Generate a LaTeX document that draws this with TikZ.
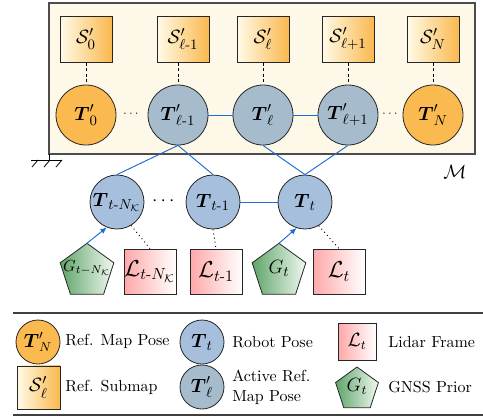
\documentclass[tikz,border=0pt]{standalone}
\usepackage{amsmath,amssymb}
\usetikzlibrary{shapes.geometric,arrows.meta,calc}
\definecolor{mapfill}{RGB}{253,248,232}
\definecolor{orangeP}{RGB}{250,186,80}
\definecolor{greyblue}{RGB}{166,188,205}
\definecolor{robotblue}{RGB}{166,191,220}
\definecolor{edgeblue}{RGB}{30,110,210}
\definecolor{subL}{RGB}{255,251,232}
\definecolor{subR}{RGB}{250,184,78}
\definecolor{lidL}{RGB}{255,168,168}
\definecolor{gnssL}{RGB}{95,165,105}
\definecolor{gnssR}{RGB}{240,248,240}
\tikzset{
  fT/.style={font=\fontsize{13}{15}\selectfont},
  refpose/.style={circle,draw=black!85,line width=0.5pt,fill=orangeP,inner sep=0pt,minimum size=37.5pt,fT},
  actpose/.style={circle,draw=black!85,line width=0.5pt,fill=greyblue,inner sep=0pt,minimum size=37.5pt,fT},
  robpose/.style={circle,draw=black!85,line width=0.5pt,fill=robotblue,inner sep=0pt,minimum size=33.75pt,fT},
  submap/.style={rectangle,draw=black!85,line width=0.5pt,left color=subL,right color=subR,inner sep=0pt,minimum width=32.5pt,minimum height=28.75pt,font=\fontsize{12.5}{14}\selectfont},
  lidar/.style={rectangle,draw=black!85,line width=0.5pt,left color=lidL,right color=white,inner sep=0pt,minimum width=32.5pt,minimum height=28.1pt,font=\fontsize{14}{16}\selectfont},
  gnssshape/.style={draw=black!85,line width=0.5pt,left color=gnssL,right color=gnssR,line join=miter},
  gtext/.style={inner sep=0pt,font=\fontsize{13}{15}\selectfont},
  bedge/.style={edgeblue,line width=0.6pt},
  barrow/.style={edgeblue,line width=0.6pt,-{Latex[length=4pt,width=3.5pt]}},
  dedge/.style={black,line width=0.5pt,dash pattern=on 2pt off 1.5pt},
  dotedge/.style={black,line width=0.6pt,dotted},
  legtext/.style={anchor=west,inner sep=0pt,align=left,font=\fontsize{10}{12.5}\selectfont}
}
\newcommand\pentaat[2]{% center coordinate name, radius in px
  \path[gnssshape] ($(#1)+(-90:#2)$) -- ($(#1)+(-18:#2)$) -- ($(#1)+(54:#2)$) -- ($(#1)+(126:#2)$) -- ($(#1)+(198:#2)$) -- cycle;}
\begin{document}
\begin{tikzpicture}[x=0.625pt,y=-0.625pt]
\useasboundingbox (0,0) rectangle (483,419);
% map box
\draw[draw=black!70,line width=0.8pt,fill=mapfill] (49,3) rectangle (475,154);
\coordinate (gtop) at (49,154);
\coordinate (gbot) at (49,160);
\draw[line width=0.5pt] (gtop) -- (gbot);
\draw[line width=0.5pt] (31,160) -- (62,160);
\foreach \xx in {38,50,62} \draw[line width=0.5pt] (\xx,160) -- (\xx-6,167);
\node[font=\fontsize{12}{14}\selectfont] (Mlab) at (455,172) {$\mathcal{M}$};
% submaps
\node[submap] (S0) at (86,39) {$\mathcal{S}'_0$};
\node[submap] (S1) at (183,39) {$\mathcal{S}'_{\ell\text{-}1}$};
\node[submap] (S2) at (263,39) {$\mathcal{S}'_{\ell}$};
\node[submap] (S3) at (348,39) {$\mathcal{S}'_{\ell\text{+}1}$};
\node[submap] (S4) at (433,39) {$\mathcal{S}'_N$};
% ref poses
\node[refpose] (T0) at (86,115) {$\boldsymbol{T}'_0$};
\node[actpose] (T1) at (178,115) {$\boldsymbol{T}'_{\ell\text{-}1}$};
\node[actpose] (T2) at (263,115) {$\boldsymbol{T}'_{\ell}$};
\node[actpose] (T3) at (348,115) {$\boldsymbol{T}'_{\ell\text{+}1}$};
\node[refpose] (T4) at (433,115) {$\boldsymbol{T}'_N$};
\node[font=\scriptsize] (d1) at (132,114) {$\cdots$};
\node[font=\scriptsize] (d2) at (391,114) {$\cdots$};
\draw[dedge] (S0.south) -- (T0.north);
\draw[dedge] (S1.south -| T1.north) -- (T1.north);
\draw[dedge] (S2.south) -- (T2.north);
\draw[dedge] (S3.south) -- (T3.north);
\draw[dedge] (S4.south) -- (T4.north);
\draw[bedge] (T1) -- (T2);
\draw[bedge] (T2) -- (T3);
% robot poses
\node[robpose] (R1) at (117,202) {$\boldsymbol{T}_{t\text{-}N_{\mathcal{K}}}$};
\node[robpose] (R2) at (213,202) {$\boldsymbol{T}_{t\text{-}1}$};
\node[robpose] (R3) at (305,202) {$\boldsymbol{T}_{t}$};
\node[font=\large] (d3) at (165,201) {$\cdots$};
\draw[bedge] (R2) -- (R3);
\draw[bedge] (T1.south) -- (R1.north);
\draw[bedge] (T1.south) -- (R2.north);
\draw[bedge] (T2.south) -- (R3.north);
\draw[bedge] (T3.south) -- (R3.north);
% bottom
\coordinate (G1) at (87,271.5);
\coordinate (G1top) at (87,243.3);
\pentaat{G1}{28.2}
\node[gtext,font=\fontsize{10}{12}\selectfont] (G1t) at (87,268) {$G_{t-N_{\mathcal{K}}}$};
\node[lidar] (L1) at (150,271.5) {$\mathcal{L}_{t\text{-}N_{\mathcal{K}}}$};
\node[lidar] (L2) at (216,271.5) {$\mathcal{L}_{t\text{-}1}$};
\coordinate (G2) at (279,271.5);
\coordinate (G2top) at (279,243.3);
\pentaat{G2}{28.2}
\node[gtext] (G2t) at (279,268) {$G_t$};
\node[lidar] (L3) at (339,271.5) {$\mathcal{L}_{t}$};
\draw[barrow] (G1top) -- (R1.-112);
\draw[barrow] (G2top) -- (R3.-108);
\draw[dotedge] (R1.-59) -- (L1.north);
\draw[dotedge] (R2.south) -- (L2.north);
\draw[dotedge] (R3.-60) -- (L3.north);
% legend
\coordinate (la) at (13,313);
\coordinate (lb) at (483,313);
\coordinate (lc) at (13,415);
\coordinate (ld) at (483,415);
\draw[black!75,line width=0.7pt] (la) -- (lb);
\draw[black!75,line width=0.7pt] (lc) -- (ld);
\node[refpose,minimum size=27.5pt,font=\fontsize{12}{14}\selectfont] (kO) at (38,342) {$\boldsymbol{T}'_N$};
\node[legtext] (tO) at (65,341) {Ref. Map Pose};
\node[robpose,minimum size=27.5pt] (kR) at (202,342) {$\boldsymbol{T}_t$};
\node[legtext] (tR) at (232,342) {Robot Pose};
\node[lidar,minimum width=23.75pt,minimum height=23.1pt,font=\fontsize{12}{14}\selectfont] (kL) at (357,341.5) {$\mathcal{L}_t$};
\node[legtext] (tL) at (388,342) {Lidar Frame};
\node[submap,minimum width=26.9pt,minimum height=26.9pt,font=\fontsize{13}{15}\selectfont] (kS) at (38.5,387.5) {$\mathcal{S}'_\ell$};
\node[legtext] (tS) at (65,387) {Ref. Submap};
\node[actpose,minimum size=27.5pt] (kA) at (202,387) {$\boldsymbol{T}'_\ell$};
\node[legtext] (tA) at (232,387) {Active Ref.\\Map Pose};
\coordinate (kG) at (357,389.5);
\pentaat{kG}{22.5}
\node[gtext,font=\fontsize{12}{14}\selectfont] (kGt) at (357,386) {$G_t$};
\node[legtext] (tG) at (388,387) {GNSS Prior};
\end{tikzpicture}
\end{document}
